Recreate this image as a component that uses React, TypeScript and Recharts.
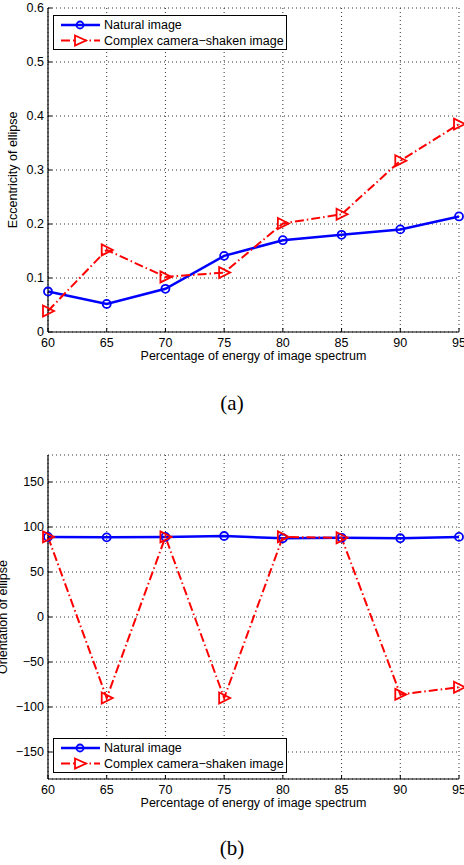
import { LineChart, Line, XAxis, YAxis, CartesianGrid } from "recharts";

// x positions: percentage of energy kept from the image spectrum
const energyPct = [60, 65, 70, 75, 80, 85, 90, 95];

// (a) eccentricity
const eccNatural = [0.075, 0.052, 0.08, 0.141, 0.17, 0.18, 0.19, 0.214];
const eccComplex = [0.039, 0.152, 0.102, 0.11, 0.201, 0.218, 0.317, 0.385];

// (b) orientation (degrees)
const oriNatural = [89, 88.5, 89, 90, 87.5, 88, 87.5, 89];
const oriComplex = [89, -90, 89, -90, 89, 88, -86, -78];

const xTicks = [60, 65, 70, 75, 80, 85, 90, 95];
const eccTicks = [0, 0.1, 0.2, 0.3, 0.4, 0.5, 0.6];
const oriTicks = [-150, -100, -50, 0, 50, 100, 150];

const seriesNames = ["Natural image", "Complex camera\u2212shaken image"];

const BLUE = "#0000ff";
const RED = "#ff0000";
const FONT = "'Liberation Sans', Arial, Helvetica, sans-serif";
const SERIF = "'Liberation Serif', 'Times New Roman', serif";
const FS = 12.5;
const DASH = "9 3 1.5 3";

const W = 464;
const H = 365;
const TICK_LEN = 4;
const X_GAP = 6; // tickSize + tickMargin on x
const Y_GAP = 4;

const eccData = energyPct.map((x, i) => ({ x, natural: eccNatural[i], complex: eccComplex[i] }));
const oriData = energyPct.map((x, i) => ({ x, natural: oriNatural[i], complex: oriComplex[i] }));

function BottomTick({ x, y, payload }: any) {
  return (
    <g>
      <line x1={x} x2={x} y1={y - X_GAP} y2={y - X_GAP - TICK_LEN} stroke="#000" />
      <text x={x} y={y} dy="0.71em" textAnchor="middle" fontSize={FS} fill="#000" fontFamily={FONT}>
        {payload.value}
      </text>
    </g>
  );
}

function LeftTick({ x, y, payload }: any) {
  const v = payload.value;
  const label = v < 0 ? `\u2212${Math.abs(v)}` : String(v);
  return (
    <g>
      <line x1={x + Y_GAP} x2={x + Y_GAP + TICK_LEN} y1={y} y2={y} stroke="#000" />
      <text x={x} y={y} dy="0.355em" textAnchor="end" fontSize={FS} fill="#000" fontFamily={FONT}>
        {label}
      </text>
    </g>
  );
}

function TopTick({ x, y }: any) {
  return <line x1={x} x2={x} y1={y} y2={y + TICK_LEN} stroke="#000" />;
}

function RightTick({ x, y }: any) {
  return <line x1={x - TICK_LEN} x2={x} y1={y} y2={y} stroke="#000" />;
}

const circleDot = (p: any) => (
  <circle key={`c-${p.index}`} cx={p.cx} cy={p.cy} r={4} fill="none" stroke={BLUE} strokeWidth={1.8} />
);

const triDot = (p: any) => (
  <path
    key={`t-${p.index}`}
    d={`M${p.cx - 5},${p.cy - 5.5} L${p.cx + 6},${p.cy} L${p.cx - 5},${p.cy + 5.5} Z`}
    fill="none"
    stroke={RED}
    strokeWidth={1.8}
  />
);

function LegendBox({ top }: { top: number }) {
  return (
    <div
      style={{
        position: "absolute",
        left: 53,
        top,
        width: 234,
        height: 35,
        boxSizing: "border-box",
        border: "1.5px solid #000",
        background: "#fff",
      }}
    >
      <svg width={232} height={32} style={{ display: "block" }}>
        <line x1={7} x2={46} y1={9} y2={9} stroke={BLUE} strokeWidth={2.5} />
        <circle cx={26} cy={9} r={3.5} fill="none" stroke={BLUE} strokeWidth={1.8} />
        <text x={50} y={9} dy="0.355em" fontSize={FS} fontFamily={FONT} fill="#000">
          {seriesNames[0]}
        </text>
        <line x1={7} x2={46} y1={24.5} y2={24.5} stroke={RED} strokeWidth={2} strokeDasharray={DASH} />
        <path d="M21,19.5 L32,24.5 L21,29.5 Z" fill="#fff" stroke={RED} strokeWidth={1.8} />
        <text x={50} y={24.5} dy="0.355em" fontSize={FS} fontFamily={FONT} fill="#000">
          {seriesNames[1]}
        </text>
      </svg>
    </div>
  );
}

function Panel({
  data,
  domain,
  ticks,
}: {
  data: any[];
  domain: [number, number];
  ticks: number[];
}) {
  return (
    <LineChart width={W} height={H} data={data} margin={{ top: 8, right: 5, left: 0, bottom: 0 }}>
      <CartesianGrid stroke="#333" strokeDasharray="1 3" />
      <XAxis
        dataKey="x"
        type="number"
        domain={[60, 95]}
        ticks={xTicks}
        height={33}
        tickSize={4}
        tickMargin={2}
        tickLine={false}
        axisLine={{ stroke: "#000", strokeWidth: 1.2 }}
        tick={<BottomTick />}
        interval={0}
      />
      <XAxis
        xAxisId="top"
        orientation="top"
        dataKey="x"
        type="number"
        domain={[60, 95]}
        ticks={xTicks}
        height={0}
        tickSize={0}
        tickMargin={0}
        tickLine={false}
        axisLine={{ stroke: "#000", strokeWidth: 1.2 }}
        tick={<TopTick />}
        interval={0}
      />
      <YAxis
        type="number"
        domain={domain}
        ticks={ticks}
        width={48}
        tickSize={4}
        tickMargin={0}
        tickLine={false}
        axisLine={{ stroke: "#000", strokeWidth: 1.2 }}
        tick={<LeftTick />}
        interval={0}
        allowDataOverflow
      />
      <YAxis
        yAxisId="right"
        orientation="right"
        type="number"
        domain={domain}
        ticks={ticks}
        width={0}
        tickSize={0}
        tickMargin={0}
        tickLine={false}
        axisLine={{ stroke: "#000", strokeWidth: 1.2 }}
        tick={<RightTick />}
        interval={0}
        allowDataOverflow
      />
      <Line
        type="linear"
        dataKey="natural"
        stroke={BLUE}
        strokeWidth={2.5}
        dot={circleDot}
        activeDot={false}
        isAnimationActive={false}
      />
      <Line
        type="linear"
        dataKey="complex"
        stroke={RED}
        strokeWidth={2}
        strokeDasharray={DASH}
        dot={triDot}
        activeDot={false}
        isAnimationActive={false}
      />
    </LineChart>
  );
}

const textBase: React.CSSProperties = {
  position: "absolute",
  fontFamily: FONT,
  fontSize: FS,
  color: "#000",
  whiteSpace: "nowrap",
  lineHeight: "14px",
};

function YTitle({ text, cx, cy }: { text: string; cx: number; cy: number }) {
  return (
    <div
      style={{
        ...textBase,
        left: cx - 100,
        top: cy - 7,
        width: 200,
        textAlign: "center",
        transform: "rotate(-90deg)",
      }}
    >
      {text}
    </div>
  );
}

const captionStyle: React.CSSProperties = {
  position: "absolute",
  left: 0,
  width: 464,
  textAlign: "center",
  fontFamily: SERIF,
  fontSize: 21,
  lineHeight: "24px",
};

export default function App() {
  return (
    <div style={{ position: "absolute", left: 0, top: 0, width: 464, height: 865, background: "#fff", overflow: "hidden" }}>
      <div style={{ position: "absolute", left: 0, top: 0 }}>
        <Panel data={eccData} domain={[0, 0.6]} ticks={eccTicks} />
      </div>
      <LegendBox top={15} />
      <YTitle text="Eccentricity of ellipse" cx={13} cy={170} />
      <div style={{ ...textBase, left: 48, width: 411, top: 349, textAlign: "center" }}>
        Percentage of energy of image spectrum
      </div>
      <div style={{ ...captionStyle, top: 391 }}>(a)</div>

      <div style={{ position: "absolute", left: 0, top: 447 }}>
        <Panel data={oriData} domain={[-180, 180]} ticks={oriTicks} />
      </div>
      <LegendBox top={738} />
      <YTitle text="Orientation of ellipse" cx={3} cy={617} />
      <div style={{ ...textBase, left: 48, width: 411, top: 796, textAlign: "center" }}>
        Percentage of energy of image spectrum
      </div>
      <div style={{ ...captionStyle, top: 836 }}>(b)</div>
    </div>
  );
}
